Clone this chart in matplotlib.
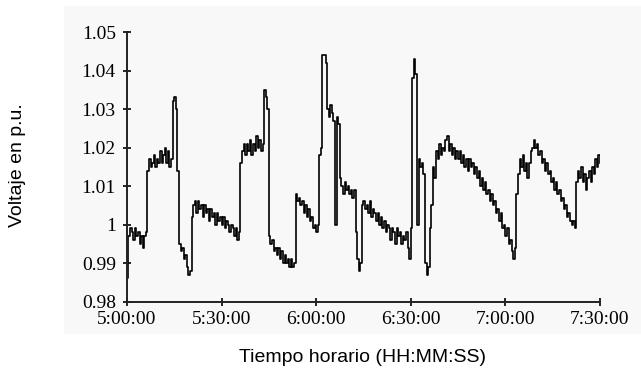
import numpy as np
import matplotlib
matplotlib.use("Agg")
import matplotlib.pyplot as plt
from matplotlib.patches import Rectangle

# Voltage (p.u.) read every 0.5 minute from 5:00:00 to 7:30:00
voltage = [
    0.986, 0.997, 0.999, 0.998, 0.996, 0.999, 0.997, 0.998, 0.995, 0.997,   # 0.0 - 4.5
    0.994, 0.997, 0.998, 1.014, 1.017, 1.015, 1.016, 1.018, 1.015, 1.017,   # 5 - 9.5
    1.016, 1.019, 1.016, 1.018, 1.020, 1.016, 1.019, 1.015, 1.017, 1.032,   # 10 - 14.5
    1.033, 1.030, 1.014, 0.995, 0.993, 0.994, 0.991, 0.992, 0.989, 0.987,   # 15 - 19.5
    0.988, 1.002, 1.005, 1.006, 1.003, 1.006, 1.004, 1.005, 1.002, 1.005,   # 20 - 24.5
    1.003, 1.004, 1.001, 1.004, 1.002, 1.003, 1.000, 1.003, 1.001, 1.002,   # 25 - 29.5
    1.000, 1.002, 0.999, 1.001, 1.000, 0.998, 1.000, 0.999, 0.997, 0.999,   # 30 - 34.5
    0.996, 0.998, 1.016, 1.019, 1.021, 1.018, 1.021, 1.019, 1.022, 1.018,   # 35 - 39.5
    1.021, 1.019, 1.023, 1.020, 1.022, 1.019, 1.021, 1.035, 1.033, 1.030,   # 40 - 44.5
    0.997, 0.995, 0.996, 0.993, 0.994, 0.992, 0.994, 0.991, 0.993, 0.990,   # 45 - 49.5
    0.992, 0.990, 0.991, 0.989, 0.991, 0.989, 0.990, 1.008, 1.006, 1.007,   # 50 - 54.5
    1.005, 1.006, 1.003, 1.005, 1.002, 1.004, 1.001, 1.002, 0.999, 1.000,   # 55 - 59.5
    0.998, 1.000, 1.018, 1.020, 1.044, 1.044, 1.042, 1.030, 1.028, 1.031,   # 60 - 64.5
    1.029, 1.027, 1.000, 1.028, 1.026, 1.012, 1.010, 1.008, 1.011, 1.009,   # 65 - 69.5
    1.010, 1.008, 1.009, 1.007, 1.009, 0.998, 0.991, 0.988, 0.990, 1.005,   # 70 - 74.5
    1.006, 1.004, 1.005, 1.003, 1.006, 1.002, 1.004, 1.003, 1.001, 1.003,   # 75 - 79.5
    1.000, 1.002, 0.999, 1.001, 0.998, 1.000, 0.999, 0.996, 0.999, 0.998,   # 80 - 84.5
    0.995, 0.999, 0.997, 0.998, 0.995, 0.997, 0.996, 0.998, 0.994, 0.991,   # 85 - 89.5
    0.999, 1.038, 1.043, 1.039, 1.000, 1.017, 1.015, 1.016, 1.013, 0.990,   # 90 - 94.5
    0.987, 0.989, 0.999, 1.005, 1.015, 1.012, 1.019, 1.017, 1.021, 1.018,   # 95 - 99.5
    1.020, 1.019, 1.022, 1.023, 1.019, 1.021, 1.018, 1.020, 1.017, 1.019,   # 100 - 104.5
    1.017, 1.019, 1.016, 1.018, 1.015, 1.017, 1.014, 1.017, 1.015, 1.016,   # 105 - 109.5
    1.013, 1.015, 1.012, 1.014, 1.010, 1.012, 1.009, 1.011, 1.008, 1.009,   # 110 - 114.5
    1.006, 1.008, 1.005, 1.006, 1.003, 1.004, 1.001, 1.003, 0.999, 1.000,   # 115 - 119.5
    0.997, 0.999, 0.995, 0.996, 0.993, 0.991, 0.994, 1.008, 1.013, 1.017,   # 120 - 124.5
    1.015, 1.018, 1.014, 1.016, 1.012, 1.016, 1.019, 1.020, 1.022, 1.020,   # 125 - 129.5
    1.021, 1.018, 1.019, 1.016, 1.017, 1.014, 1.016, 1.013, 1.014, 1.011,   # 130 - 134.5
    1.012, 1.009, 1.011, 1.008, 1.009, 1.006, 1.007, 1.004, 1.005, 1.002,   # 135 - 139.5
    1.003, 1.001, 1.000, 1.001, 0.999, 1.011, 1.014, 1.012, 1.015, 1.011,   # 140 - 144.5
    1.013, 1.009, 1.012, 1.014, 1.011, 1.015, 1.013, 1.017, 1.015, 1.018,   # 145 - 149.5
    1.016,                                                                  # 150
]
minutes = np.arange(len(voltage)) * 0.5

x_ticks = [0, 30, 60, 90, 120, 150]
x_labels = ["5:00:00", "5:30:00", "6:00:00", "6:30:00", "7:00:00", "7:30:00"]
y_ticks = [0.98, 0.99, 1.00, 1.01, 1.02, 1.03, 1.04, 1.05]
y_labels = ["0.98", "0.99", "1", "1.01", "1.02", "1.03", "1.04", "1.05"]

fig = plt.figure(figsize=(6.41, 3.71), dpi=100)
fig.patch.set_facecolor("white")
# light scanned-paper background
bg = Rectangle((0.10, 0.10), 0.90, 0.885, transform=fig.transFigure,
               facecolor="#f8f8f8", edgecolor="none", zorder=-10)
fig.patches.append(bg)

ax = fig.add_axes([0.198, 0.1873, 0.738, 0.7264])
ax.set_zorder(5)
ax.set_facecolor("none")
ax.patch.set_alpha(0)
ax.plot(minutes, voltage, color="black", lw=1.2, drawstyle="steps-post")

ax.set_xlim(0, 150)
ax.set_ylim(0.98, 1.05)
ax.set_xticks(x_ticks)
ax.set_xticklabels(x_labels)
ax.set_yticks(y_ticks)
ax.set_yticklabels(y_labels)

serif = ["Liberation Serif", "DejaVu Serif"]
for lab in ax.get_xticklabels() + ax.get_yticklabels():
    lab.set_family(serif)
    lab.set_fontsize(14)
ax.tick_params(axis="both", direction="inout", length=6, width=1.2, colors="black")
ax.tick_params(axis="y", pad=5)
ax.tick_params(axis="x", pad=4)

for s in ["top", "right"]:
    ax.spines[s].set_visible(False)
for s in ["left", "bottom"]:
    ax.spines[s].set_linewidth(1.4)
    ax.spines[s].set_color("#222222")

fig.text(0.565, 0.037, "Tiempo horario (HH:MM:SS)", ha="center", va="center",
         fontsize=14, family=["Liberation Sans", "DejaVu Sans"])
fig.text(0.027, 0.555, "Voltaje en p.u.", ha="center", va="center", rotation=90,
         fontsize=14, family=["Liberation Sans", "DejaVu Sans"])

fig.savefig("out.png", dpi=100)
